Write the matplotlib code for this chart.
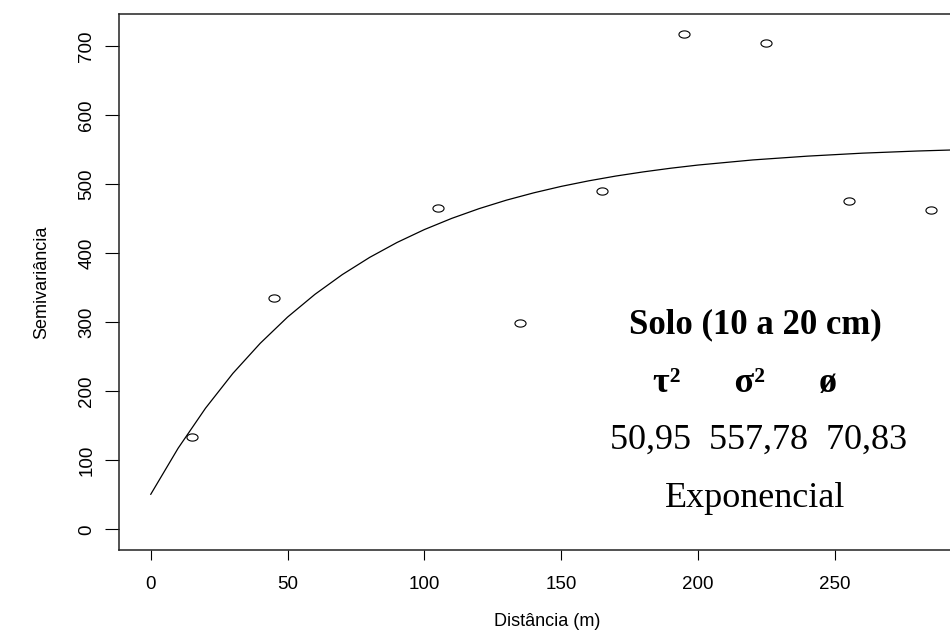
import numpy as np
import matplotlib
matplotlib.use("Agg")
import matplotlib.pyplot as plt
from matplotlib.path import Path

lags = [15, 45, 105, 135, 165, 195, 225, 255, 285]
semiv = [134, 335, 465, 299, 490, 717, 705, 476, 462]

# modelo ajustado, valores
curve_h = [0, 10, 20, 30, 40, 50, 60, 70, 80, 90, 100, 110, 120, 130, 140,
           150, 160, 170, 180, 190, 200, 220, 240, 260, 280, 300]
curve_g = [51.0, 117.7, 175.6, 226.0, 269.6, 307.6, 340.5, 369.1, 394.0,
           415.6, 434.3, 450.5, 464.6, 476.9, 487.5, 496.8, 504.8, 511.8,
           517.8, 523.1, 527.7, 535.1, 540.6, 544.9, 548.0, 550.4]

x_ticks = [0, 50, 100, 150, 200, 250]
y_ticks = [0, 100, 200, 300, 400, 500, 600, 700]

titulo = "Solo (10 a 20 cm)"
params = "τ²      σ²      ø"
valores = "50,95  557,78  70,83"
modelo = "Exponencial"

plt.rcParams['font.family'] = ['Liberation Sans', 'DejaVu Sans']

fig = plt.figure(figsize=(9.5, 6.34), dpi=100)
ax = fig.add_axes([0.1253, 0.1325, 0.9021, 0.8454])

# circulo achatado (o original esta esticado na horizontal)
t = np.linspace(0, 2 * np.pi, 40)
ellipse = Path(np.column_stack([np.cos(t), 0.65 * np.sin(t)]), closed=True)

ax.plot(curve_h, curve_g, color='black', lw=0.9)
ax.plot(lags, semiv, ls='none', marker=ellipse, ms=8, mfc='none',
        mec='black', mew=0.8)

ax.set_xlim(-11.6, 301.6)
ax.set_ylim(-29.7, 746.4)
ax.set_xticks(x_ticks)
ax.set_yticks(y_ticks)
ax.tick_params(axis='x', direction='out', length=7, width=0.8, pad=12,
               labelsize=13.5)
ax.tick_params(axis='y', direction='out', length=10, width=0.8, pad=7,
               labelsize=13.5)
for lab in ax.get_yticklabels():
    lab.set_rotation(90)
    lab.set_va('center')
for sp in ax.spines.values():
    sp.set_linewidth(1.1)
    sp.set_color('#222222')

ax.set_xlabel("Distância (m)", fontsize=13, labelpad=14)
ax.set_ylabel("Semivariância", fontsize=13, labelpad=20)

serif = ['Liberation Serif', 'DejaVu Serif']
ax.text(220.9, 296, titulo, ha='center', va='center', fontsize=25,
        fontweight='bold', family=serif)
ax.text(217, 212, params, ha='center', va='center', fontsize=26,
        fontweight='bold', family=serif)
ax.text(222, 129.5, valores, ha='center', va='center', fontsize=26,
        family=serif)
ax.text(220.9, 45.4, modelo, ha='center', va='center', fontsize=26,
        family=serif)

fig.savefig("out.png", dpi=100)
